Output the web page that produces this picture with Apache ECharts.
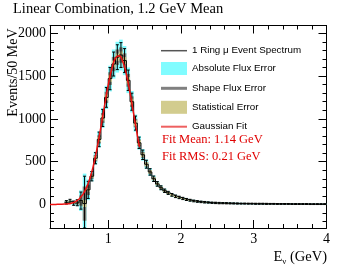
<!DOCTYPE html>
<html>
<head>
<meta charset="utf-8">
<script src="https://cdn.jsdelivr.net/npm/echarts@6/dist/echarts.min.js"></script>
<style>
html,body{margin:0;padding:0;background:#fff;}
#chart{width:344px;height:272px;}
</style>
</head>
<body>
<div id="chart"></div>
<script>
// ---- data ----
const binStart = 0.40;   // GeV, low edge of first bin
const binWidth = 0.05;   // GeV (50 MeV bins)
const counts = [25,35,15,20,45,10,170,330,540,760,1010,1250,
  1470,1640,1720,1745,1680,1450,1200,950,720,580,470,380,300,240,195,160,135,112,95,82,
  70,58,49,41,35,30,26,23,20,18,16,15,14,13,12,11,10,10,9,9,
  8,8,8,7,7,7,6,6,6,6,5,5,5,5,5,4,4,4,4,4];
const absErr = [20,20,25,40,120,350,120,60,75,95,115,135,
  150,170,180,180,170,150,125,100,80,68,56,46,38,32,28,25,22,20,18,17,
  16,15,14,13,12,12,11,11,10,10,10,10,9,9,9,9,9,8,8,8,
  8,8,8,7,7,7,7,7,7,6,6,6,6,6,6,6,6,6,6,6];
const shapeErr = [10,10,12,20,60,200,60,30,38,48,58,66,
  74,84,90,90,85,75,62,50,40,34,28,23,19,16,14,12,11,10,9,9,
  8,8,7,7,6,6,6,5,5,5,5,5,5,4,4,4,4,4,4,4,
  4,4,4,4,4,4,3,3,3,3,3,3,3,3,3,3,3,3,3,3];
const statErr = [8,9,6,7,10,40,18,18,23,28,32,35,
  38,40,42,42,41,38,35,31,27,24,22,19,17,15,14,13,12,11,10,9,
  8,8,7,6,6,5,5,5,4,4,4,4,4,4,3,3,3,3,3,3,
  3,3,3,3,3,3,3,2,2,2,2,2,2,2,2,2,2,2,2,2];
const barErr = [20,25,25,35,100,320,100,55,65,85,100,115,
  130,140,145,145,140,120,100,82,66,55,46,38,32,27,23,20,18,16,15,14,
  13,12,11,10,10,9,9,8,8,8,8,7,7,7,7,7,6,6,6,6,
  6,6,6,6,5,5,5,5,5,5,5,5,5,5,5,5,5,5,5,5];
const fitE   = [0.20,0.25,0.30,0.35,0.40,0.45,0.50,0.55,0.60,0.65,0.70,0.75,0.80,0.85,0.90,0.95,1.00,1.05,1.10,1.15,1.20,1.25,1.30,1.35,1.40,1.43];
const fitVal = [0,0,1,2,4,8,17,34,64,114,194,310,469,671,906,1156,1393,1587,1709,1738,1670,1517,1302,1055,809,670];
const xMajorTicks = [1,2,3,4];
const yMajorTicks = [0,500,1000,1500,2000];
const yMinorTicks = [-200,-100,0,100,200,300,400,500,600,700,800,900,1000,1100,1200,1300,1400,1500,1600,1700,1800,1900,2000];
const titleText = 'Linear Combination, 1.2 GeV Mean';
const yTitle = 'Events/50 MeV';
const fitLines = ['Fit Mean: 1.14 GeV', 'Fit RMS: 0.21 GeV'];

const X_MIN = 0.2, X_MAX = 4.0, Y_MIN = -275, Y_MAX = 2090;
const names = {
  spec: '1 Ring \u03bc Event Spectrum',
  abs: 'Absolute Flux Error',
  shape: 'Shape Flux Error',
  stat: 'Statistical Error',
  fit: 'Gaussian Fit'
};
const colors = {abs:'#80fcff', shape:'#7f857c', stat:'#d2cc8e', fit:'#ee1111', spec:'#000'};

function boxData(errs){
  return counts.map((v,i)=>[binStart+i*binWidth, binStart+(i+1)*binWidth, v, errs[i]]);
}
function bandRender(color){
  return function(params, api){
    const lo=api.value(0), hi=api.value(1), v=api.value(2), e=api.value(3);
    const p1=api.coord([lo, v+e]), p2=api.coord([hi, v-e]);
    const cs=params.coordSys;
    const r=echarts.graphic.clipRectByRect(
      {x:p1[0], y:p1[1], width:p2[0]-p1[0], height:p2[1]-p1[1]},
      {x:cs.x, y:cs.y, width:cs.width, height:cs.height});
    return r && {type:'rect', shape:r, style:{fill:color}};
  };
}
function errRender(params, api){
  const c=api.value(0), v=api.value(1), e=api.value(2);
  const cs=params.coordSys;
  const top=api.coord([c, v+e]), bot=api.coord([c, v-e]);
  const yb=Math.min(bot[1], cs.y+cs.height), yt=Math.max(top[1], cs.y);
  const st={stroke:'#000', lineWidth:1};
  return {type:'group', children:[
    {type:'line', shape:{x1:top[0], y1:yt, x2:top[0], y2:yb}, style:st},
    {type:'line', shape:{x1:top[0]-1.5, y1:yt, x2:top[0]+1.5, y2:yt}, style:st},
    {type:'line', shape:{x1:top[0]-1.5, y1:yb, x2:top[0]+1.5, y2:yb}, style:st}
  ]};
}

const stepData = counts.map((v,i)=>[binStart+i*binWidth, v]);
stepData.push([binStart+counts.length*binWidth, counts[counts.length-1]]);
const errData = counts.map((v,i)=>[binStart+(i+0.5)*binWidth, v, barErr[i]]);
const fitData = fitE.map((e,i)=>[e, fitVal[i]]);

const serif = 'Liberation Serif';
const sans = 'Liberation Sans';
const lineAx = {show:true, onZero:false, lineStyle:{color:'#000', width:1}};
const noLine = {show:false, onZero:false};

function xAx(pos, major, labels){
  return {
    type:'value', position:pos, min:X_MIN, max:X_MAX, interval:0.2,
    axisLine: major ? noLine : lineAx,
    splitLine:{show:false},
    axisTick: major ? {show:true, inside:true, length:8, customValues:xMajorTicks, lineStyle:{color:'#000'}}
                    : {show:true, inside:true, length:4, lineStyle:{color:'#000'}},
    axisLabel: labels ? {show:true, margin:4, color:'#000', fontFamily:serif, fontSize:14,
        formatter:function(v){return Math.abs(v-Math.round(v))<1e-6 ? String(Math.round(v)) : '';}}
      : {show:false}
  };
}
function yAx(pos, major, labels){
  return {
    type:'value', position:pos, min:Y_MIN, max:Y_MAX,
    axisLine: major ? noLine : lineAx,
    splitLine:{show:false},
    axisTick: {show:true, inside:true, length: major?8:4, customValues: major?yMajorTicks:yMinorTicks, lineStyle:{color:'#000'}},
    axisLabel: labels ? {show:true, margin:4, color:'#000', fontFamily:serif, fontSize:14, customValues:yMajorTicks,
        formatter:function(v){return String(v);}}
      : {show:false}
  };
}

function legendRow(name, top, h, style){
  return {
    show:true, left:161, top:top, padding:0, itemWidth:26, itemHeight:h, selectedMode:false,
    textStyle:{fontFamily:sans, fontSize:9.8, color:'#000', lineHeight:12},
    data:[Object.assign({name:name, icon:'rect'}, style)]
  };
}

const option = {
  animation:false,
  backgroundColor:'#fff',
  title:{text:titleText, left:13, top:2, padding:0,
    textStyle:{fontFamily:serif, fontSize:14.5, fontWeight:'normal', color:'#000'}},
  grid:{left:50, right:17.5, top:25.5, bottom:44, containLabel:false},
  xAxis:[xAx('bottom', false, true), xAx('bottom', true, false), xAx('top', false, false), xAx('top', true, false)],
  yAxis:[yAx('left', false, true), yAx('left', true, false), yAx('right', false, false), yAx('right', true, false)],
  legend:[
    legendRow(names.spec, 44.7, 1.5, {itemStyle:{color:'#555', borderWidth:0}, lineStyle:{color:'#555', width:1.5}}),
    legendRow(names.abs, 62, 13, {itemStyle:{color:colors.abs, borderWidth:0}}),
    legendRow(names.shape, 82.3, 3, {itemStyle:{color:'#808080', borderWidth:0}}),
    legendRow(names.stat, 100.8, 13, {itemStyle:{color:colors.stat, borderWidth:0}}),
    legendRow(names.fit, 120.7, 2, {itemStyle:{color:'#ee6060', borderWidth:0}, lineStyle:{color:'#ee6060', width:2}})
  ],
  graphic:[
    {type:'text', x:13, y:72.5, rotation:Math.PI/2,
      style:{text:yTitle, fontFamily:serif, fontSize:14, fill:'#000', align:'center', verticalAlign:'middle'}},
    {type:'text', right:17, top:250,
      style:{text:'{m|E}{s|\u03bd}{m| (GeV)}', fill:'#000',
        rich:{m:{fontFamily:serif, fontSize:14.5, fill:'#000'}, s:{fontFamily:serif, fontSize:9, fill:'#000', padding:[9,0,0,0]}}}},
    {type:'text', x:162, y:140,
      style:{text:fitLines[0], fontFamily:serif, fontSize:12.5, fill:'#e00000', verticalAlign:'middle'}},
    {type:'text', x:162, y:157,
      style:{text:fitLines[1], fontFamily:serif, fontSize:12.5, fill:'#e00000', verticalAlign:'middle'}}
  ],
  series:[
    {name:names.abs, type:'custom', renderItem:bandRender(colors.abs), data:boxData(absErr),
      encode:{x:[0,1], y:[2]}, itemStyle:{color:colors.abs}, z:1, silent:true},
    {name:names.shape, type:'custom', renderItem:bandRender(colors.shape), data:boxData(shapeErr),
      encode:{x:[0,1], y:[2]}, itemStyle:{color:colors.shape}, z:2, silent:true},
    {name:names.stat, type:'custom', renderItem:bandRender(colors.stat), data:boxData(statErr),
      encode:{x:[0,1], y:[2]}, itemStyle:{color:colors.stat}, z:3, silent:true},
    {name:names.spec, type:'line', step:'end', data:stepData, symbol:'none',
      lineStyle:{color:'#000', width:1}, itemStyle:{color:'#000'}, z:4, silent:true, clip:true},
    {name:names.spec, type:'custom', renderItem:errRender, data:errData,
      encode:{x:[0], y:[1]}, itemStyle:{color:'#000'}, z:5, silent:true},
    {name:names.fit, type:'line', data:fitData, smooth:true, symbol:'none',
      lineStyle:{color:colors.fit, width:1.5}, itemStyle:{color:colors.fit}, z:6, silent:true}
  ]
};
const chart = echarts.init(document.getElementById('chart'), null, {renderer:'canvas'});
chart.setOption(option);
</script>
</body>
</html>
